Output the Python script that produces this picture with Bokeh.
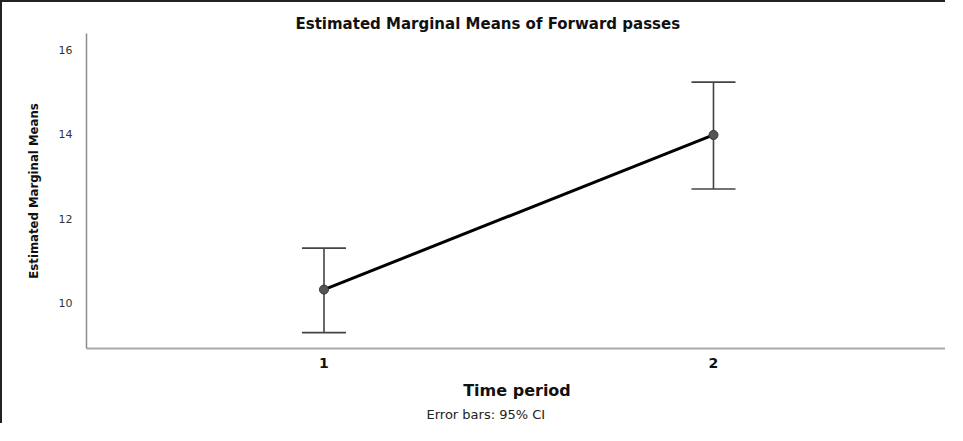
from bokeh.plotting import figure
from bokeh.models import ColumnDataSource, Whisker, TeeHead, Range1d, FixedTicker, Title
from bokeh.embed import file_html
from bokeh.resources import INLINE

# data
periods = [1, 2]
period_labels = ["1", "2"]
means = [10.32, 13.98]
ci_lower = [9.30, 12.70]
ci_upper = [11.30, 15.23]
y_ticks = [10, 12, 14, 16]

title_text = "Estimated Marginal Means of Forward passes"
x_title = "Time period"
y_title = "Estimated Marginal Means"
note_text = "Error bars: 95% CI"

src = ColumnDataSource(dict(x=periods, y=means, lo=ci_lower, hi=ci_upper))

X0, X1 = 0.3903, 2.6008
Y0, Y1 = 8.925, 16.382

p = figure(width=945, height=423, output_backend="svg", toolbar_location=None,
           x_range=Range1d(X0, X1), y_range=Range1d(Y0, Y1),
           min_border_left=84, min_border_top=31, min_border_bottom=77, min_border_right=0)
p.styles = {"border-left": "2px solid #222", "border-top": "2px solid #222"}
p.outline_line_color = None
p.grid.grid_line_color = None
p.background_fill_color = "white"
p.border_fill_color = "white"

p.title.text = title_text
p.title.align = "left"
p.title.offset = 209
p.title.standoff = 2
p.title.text_font = "DejaVu Sans"
p.title.text_font_size = "15px"
p.title.text_font_style = "bold"
p.title.text_color = "#111"

# x axis
xa = p.xaxis[0]
xa.ticker = FixedTicker(ticks=periods)
xa.major_label_overrides = {pv: lab for pv, lab in zip(periods, period_labels)}
xa.axis_line_color = "#aaaaaa"
xa.axis_line_width = 2
xa.major_tick_line_color = None
xa.minor_tick_line_color = None
xa.major_label_text_font = "DejaVu Sans"
xa.major_label_text_font_size = "14px"
xa.major_label_text_font_style = "bold"
xa.major_label_text_color = "#111"
xa.major_label_standoff = 3
xa.axis_label = x_title
xa.axis_label_text_font = "DejaVu Sans"
xa.axis_label_text_font_size = "16px"
xa.axis_label_text_font_style = "bold"
xa.axis_label_text_color = "#111"
xa.axis_label_standoff = 10

# y axis
ya = p.yaxis[0]
ya.ticker = FixedTicker(ticks=y_ticks)
ya.axis_line_color = "#8c8c8c"
ya.axis_line_width = 1.5
ya.major_tick_line_color = None
ya.minor_tick_line_color = None
ya.major_label_text_font = "DejaVu Sans"
ya.major_label_text_font_size = "11px"
ya.major_label_text_color = "#333"
ya.major_label_standoff = 8
ya.axis_label = y_title
ya.axis_label_text_font = "'DejaVu Sans Condensed', 'DejaVu Sans', sans-serif"
ya.axis_label_text_font_size = "13px"
ya.axis_label_text_font_style = "bold"
ya.axis_label_text_color = "#111"
ya.axis_label_standoff = 15

note = Title(text=note_text, align="left", offset=340, standoff=5,
             text_font="DejaVu Sans", text_font_size="13px",
             text_font_style="normal", text_color="#222")
p.add_layout(note, "below")

# error bars
w = Whisker(source=src, base="x", lower="lo", upper="hi",
            line_color="#444444", line_width=1.6,
            upper_head=TeeHead(size=44, line_color="#444444", line_width=1.6),
            lower_head=TeeHead(size=44, line_color="#444444", line_width=1.6))
p.add_layout(w)

p.line("x", "y", source=src, line_color="black", line_width=3)
p.scatter("x", "y", source=src, size=9, fill_color="#555555", line_color="#333333", line_width=1)

open("out.html", "w").write(file_html(p, INLINE))
